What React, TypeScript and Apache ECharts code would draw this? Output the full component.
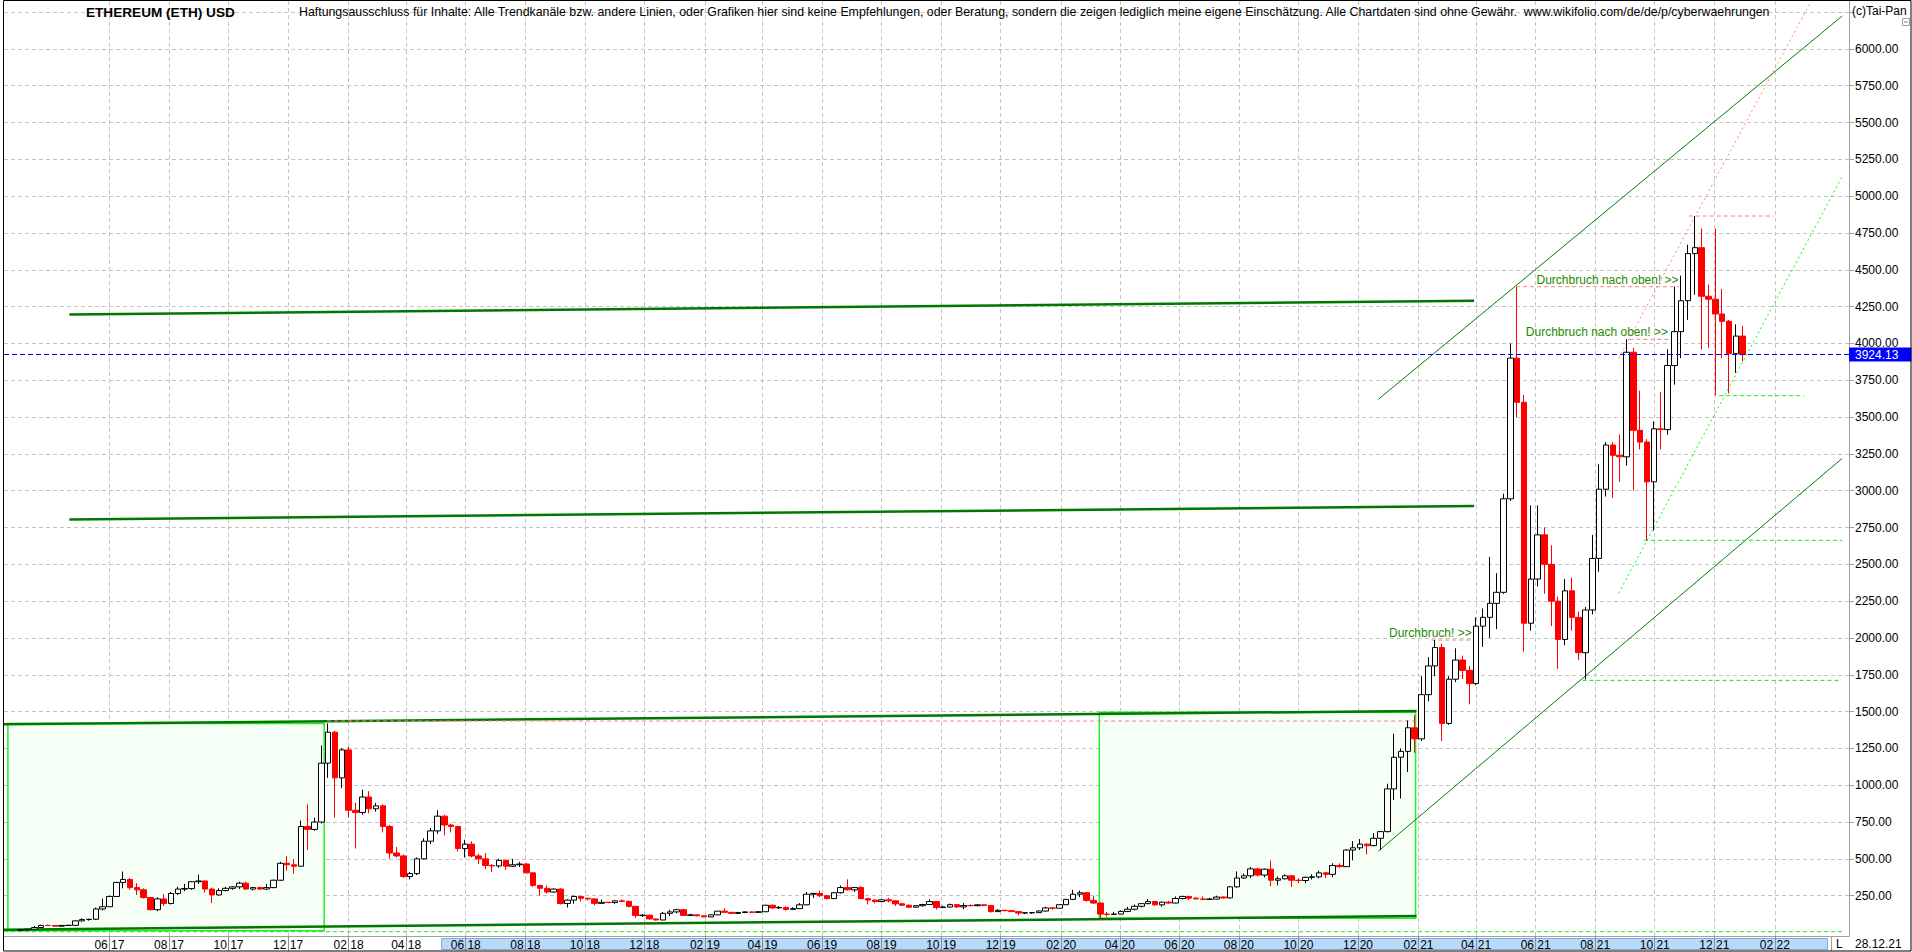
import React, { useEffect, useRef } from 'react';
import * as echarts from 'echarts';

const FONT = '"Liberation Sans", Arial, sans-serif';
const TITLE = 'ETHEREUM (ETH) USD';
const DISCLAIMER =
  'Haftungsausschluss für Inhalte: Alle Trendkanäle bzw. andere Linien, oder Grafiken hier sind keine Empfehlungen, oder Beratung, sondern die zeigen lediglich meine eigene Einschätzung. Alle Chartdaten sind ohne Gewähr.  www.wikifolio.com/de/de/p/cyberwaehrungen';
const COPYRIGHT = '(c)Tai-Pan';
const LAST_DATE_LABEL = '28.12.21';

const xRange = ['2017-02-13', '2022-04-18'];
const yRange = [-23.7, 6325];
const yGridTicks = [250, 500, 750, 1000, 1250, 1500, 1750, 2000, 2250, 2500, 2750, 3000, 3250, 3500, 3750, 4000, 4250, 4500, 4750, 5000, 5250, 5500, 5750, 6000, 6250];
const yLabelTicks = [250, 500, 750, 1000, 1250, 1500, 1750, 2000, 2250, 2500, 2750, 3000, 3250, 3500, 3750, 4000, 4250, 4500, 4750, 5000, 5250, 5500, 5750, 6000];
const monthTicks = [
  '2017-06-01', '2017-08-01', '2017-10-01', '2017-12-01', '2018-02-01', '2018-04-01', '2018-06-01', '2018-08-01',
  '2018-10-01', '2018-12-01', '2019-02-01', '2019-04-01', '2019-06-01', '2019-08-01', '2019-10-01', '2019-12-01',
  '2020-02-01', '2020-04-01', '2020-06-01', '2020-08-01', '2020-10-01', '2020-12-01', '2021-02-01', '2021-04-01',
  '2021-06-01', '2021-08-01', '2021-10-01', '2021-12-01', '2022-02-01',
];

// weekly candles: [week start (Mon), open, high, low, close]
const w2017 = [
  ['2017-02-27', 15.4, 19.6, 15.3, 19.2], ['2017-03-06', 19.2, 23.5, 17.4, 22.6], ['2017-03-13', 22.6, 44.3, 22.5, 34],
  ['2017-03-20', 34, 53, 33, 48], ['2017-03-27', 48, 53, 46.5, 47.5], ['2017-04-03', 47.5, 50, 42, 43],
  ['2017-04-10', 43, 51, 41, 48], ['2017-04-17', 48, 50.5, 46.5, 49], ['2017-04-24', 49, 80, 48, 79],
  ['2017-05-01', 79, 97, 75, 88], ['2017-05-08', 88, 93, 80, 90], ['2017-05-15', 90, 170, 85, 160],
  ['2017-05-22', 160, 230, 150, 175], ['2017-05-29', 175, 252, 175, 245], ['2017-06-05', 245, 345, 245, 340],
  ['2017-06-12', 340, 414, 300, 360], ['2017-06-19', 360, 370, 290, 305], ['2017-06-26', 305, 335, 255, 290],
  ['2017-07-03', 290, 300, 230, 238], ['2017-07-10', 238, 240, 150, 155], ['2017-07-17', 155, 240, 145, 228],
  ['2017-07-24', 228, 260, 180, 197], ['2017-07-31', 197, 275, 190, 265], ['2017-08-07', 265, 310, 255, 295],
  ['2017-08-14', 295, 330, 280, 298], ['2017-08-21', 298, 350, 290, 345], ['2017-08-28', 345, 392, 330, 350],
  ['2017-09-04', 350, 352, 270, 295], ['2017-09-11', 295, 305, 200, 255], ['2017-09-18', 255, 300, 250, 285],
  ['2017-09-25', 285, 310, 280, 300], ['2017-10-02', 300, 315, 290, 310], ['2017-10-09', 310, 345, 295, 335],
  ['2017-10-16', 335, 345, 290, 295], ['2017-10-23', 295, 310, 285, 305], ['2017-10-30', 305, 310, 290, 295],
  ['2017-11-06', 295, 330, 290, 305], ['2017-11-13', 305, 360, 300, 355], ['2017-11-20', 355, 480, 350, 470],
  ['2017-11-27', 470, 520, 420, 460], ['2017-12-04', 460, 500, 400, 450], ['2017-12-11', 450, 760, 450, 720],
  ['2017-12-18', 720, 870, 560, 700], ['2017-12-25', 700, 780, 690, 750],
];
const w2018 = [
  ['2018-01-01', 750, 1270, 740, 1150], ['2018-01-08', 1150, 1420, 1050, 1360], ['2018-01-15', 1360, 1370, 780, 1050],
  ['2018-01-22', 1050, 1250, 980, 1240], ['2018-01-29', 1240, 1260, 780, 830], ['2018-02-05', 830, 880, 570, 815],
  ['2018-02-12', 815, 970, 800, 920], ['2018-02-19', 920, 960, 810, 840], ['2018-02-26', 840, 880, 820, 860],
  ['2018-03-05', 860, 870, 680, 720], ['2018-03-12', 720, 730, 500, 540], ['2018-03-19', 540, 580, 510, 520],
  ['2018-03-26', 520, 530, 370, 380], ['2018-04-02', 380, 410, 360, 400], ['2018-04-09', 400, 510, 390, 500],
  ['2018-04-16', 500, 640, 495, 620], ['2018-04-23', 620, 710, 600, 690], ['2018-04-30', 690, 830, 670, 790],
  ['2018-05-07', 790, 800, 660, 730], ['2018-05-14', 730, 740, 680, 720], ['2018-05-21', 720, 720, 550, 570],
  ['2018-05-28', 570, 630, 510, 600], ['2018-06-04', 600, 620, 510, 520], ['2018-06-11', 520, 535, 465, 500],
  ['2018-06-18', 500, 540, 430, 455], ['2018-06-25', 455, 465, 410, 452], ['2018-07-02', 452, 500, 440, 490],
  ['2018-07-09', 490, 495, 425, 450], ['2018-07-16', 450, 500, 445, 460], ['2018-07-23', 460, 480, 445, 465],
  ['2018-07-30', 465, 470, 400, 405], ['2018-08-06', 405, 410, 310, 320], ['2018-08-13', 320, 325, 250, 300],
  ['2018-08-20', 300, 320, 265, 275], ['2018-08-27', 275, 300, 270, 295], ['2018-09-03', 295, 300, 190, 197],
  ['2018-09-10', 197, 225, 170, 220], ['2018-09-17', 220, 250, 195, 245], ['2018-09-24', 245, 248, 210, 232],
  ['2018-10-01', 232, 235, 218, 228], ['2018-10-08', 228, 232, 185, 198], ['2018-10-15', 198, 225, 195, 205],
  ['2018-10-22', 205, 208, 198, 204], ['2018-10-29', 204, 218, 195, 215], ['2018-11-05', 215, 225, 205, 212],
  ['2018-11-12', 212, 215, 170, 178], ['2018-11-19', 178, 180, 100, 115], ['2018-11-26', 115, 125, 105, 118],
  ['2018-12-03', 118, 120, 88, 92], ['2018-12-10', 92, 94, 82, 85], ['2018-12-17', 85, 140, 84, 130],
  ['2018-12-24', 130, 155, 112, 140], ['2018-12-31', 140, 160, 130, 155],
];
const w2019 = [
  ['2019-01-07', 155, 160, 112, 116], ['2019-01-14', 116, 128, 114, 120], ['2019-01-21', 120, 122, 110, 113],
  ['2019-01-28', 113, 115, 103, 106], ['2019-02-04', 106, 124, 104, 120], ['2019-02-11', 120, 146, 118, 145],
  ['2019-02-18', 145, 165, 135, 137], ['2019-02-25', 137, 140, 128, 130], ['2019-03-04', 130, 140, 125, 136],
  ['2019-03-11', 136, 143, 131, 140], ['2019-03-18', 140, 142, 134, 137], ['2019-03-25', 137, 145, 133, 141],
  ['2019-04-01', 141, 188, 140, 185], ['2019-04-08', 185, 190, 160, 167], ['2019-04-15', 167, 180, 160, 170],
  ['2019-04-22', 170, 178, 148, 157], ['2019-04-29', 157, 172, 154, 162], ['2019-05-06', 162, 200, 160, 188],
  ['2019-05-13', 188, 275, 185, 260], ['2019-05-20', 260, 270, 235, 265], ['2019-05-27', 265, 285, 240, 250],
  ['2019-06-03', 250, 255, 225, 230], ['2019-06-10', 230, 275, 228, 270], ['2019-06-17', 270, 320, 265, 305],
  ['2019-06-24', 305, 361, 285, 290], ['2019-07-01', 290, 310, 275, 305], ['2019-07-08', 305, 315, 225, 230],
  ['2019-07-15', 230, 235, 190, 220], ['2019-07-22', 220, 225, 198, 210], ['2019-07-29', 210, 225, 205, 222],
  ['2019-08-05', 222, 235, 205, 215], ['2019-08-12', 215, 218, 180, 195], ['2019-08-19', 195, 200, 180, 185],
  ['2019-08-26', 185, 190, 165, 172], ['2019-09-02', 172, 185, 170, 182], ['2019-09-09', 182, 195, 176, 190],
  ['2019-09-16', 190, 225, 188, 210], ['2019-09-23', 210, 212, 155, 170], ['2019-09-30', 170, 182, 165, 173],
  ['2019-10-07', 173, 196, 170, 189], ['2019-10-14', 189, 192, 165, 174], ['2019-10-21', 174, 200, 158, 183],
  ['2019-10-28', 183, 192, 178, 182], ['2019-11-04', 182, 194, 178, 188], ['2019-11-11', 188, 190, 178, 184],
  ['2019-11-18', 184, 186, 135, 142], ['2019-11-25', 142, 158, 140, 151], ['2019-12-02', 151, 152, 145, 148],
  ['2019-12-09', 148, 152, 140, 142], ['2019-12-16', 142, 143, 117, 132], ['2019-12-23', 132, 135, 125, 134],
  ['2019-12-30', 134, 136, 127, 135],
];
const w2020 = [
  ['2020-01-06', 135, 150, 133, 146], ['2020-01-13', 146, 175, 143, 167], ['2020-01-20', 167, 172, 155, 165],
  ['2020-01-27', 165, 190, 163, 189], ['2020-02-03', 189, 228, 185, 225], ['2020-02-10', 225, 290, 220, 260],
  ['2020-02-17', 260, 285, 240, 270], ['2020-02-24', 270, 275, 210, 218], ['2020-03-02', 218, 250, 195, 200],
  ['2020-03-09', 200, 205, 90, 125], ['2020-03-16', 125, 140, 108, 123], ['2020-03-23', 123, 140, 120, 125],
  ['2020-03-30', 125, 150, 123, 143], ['2020-04-06', 143, 175, 140, 158], ['2020-04-13', 158, 190, 150, 178],
  ['2020-04-20', 178, 198, 170, 196], ['2020-04-27', 196, 227, 192, 210], ['2020-05-04', 210, 216, 180, 188],
  ['2020-05-11', 188, 210, 175, 206], ['2020-05-18', 206, 215, 195, 200], ['2020-05-25', 200, 245, 198, 231],
  ['2020-06-01', 231, 250, 225, 245], ['2020-06-08', 245, 250, 220, 233], ['2020-06-15', 233, 240, 225, 228],
  ['2020-06-22', 228, 245, 220, 225], ['2020-06-29', 225, 235, 220, 227], ['2020-07-06', 227, 250, 225, 241],
  ['2020-07-13', 241, 245, 230, 235], ['2020-07-20', 235, 315, 232, 310], ['2020-07-27', 310, 415, 305, 370],
  ['2020-08-03', 370, 400, 365, 385], ['2020-08-10', 385, 445, 370, 432], ['2020-08-17', 432, 440, 380, 390],
  ['2020-08-24', 390, 435, 375, 430], ['2020-08-31', 430, 490, 315, 355], ['2020-09-07', 355, 380, 320, 365],
  ['2020-09-14', 365, 395, 360, 385], ['2020-09-21', 385, 390, 310, 355], ['2020-09-28', 355, 370, 335, 353],
  ['2020-10-05', 353, 380, 335, 375], ['2020-10-12', 375, 395, 360, 378], ['2020-10-19', 378, 420, 368, 405],
  ['2020-10-26', 405, 412, 370, 395], ['2020-11-02', 395, 470, 375, 455], ['2020-11-09', 455, 470, 440, 447],
  ['2020-11-16', 447, 565, 445, 560], ['2020-11-23', 560, 620, 490, 575], ['2020-11-30', 575, 635, 560, 600],
  ['2020-12-07', 600, 605, 530, 590], ['2020-12-14', 590, 675, 585, 640], ['2020-12-21', 640, 690, 560, 685],
  ['2020-12-28', 685, 1010, 680, 975],
];
const w2021 = [
  ['2021-01-04', 975, 1350, 900, 1190], ['2021-01-11', 1190, 1250, 910, 1230], ['2021-01-18', 1230, 1440, 1090, 1390],
  ['2021-01-25', 1390, 1475, 1220, 1315], ['2021-02-01', 1315, 1740, 1300, 1615], ['2021-02-08', 1615, 1870, 1570, 1810],
  ['2021-02-15', 1810, 1986, 1740, 1935], ['2021-02-22', 1935, 1960, 1300, 1420], ['2021-03-01', 1420, 1740, 1410, 1720],
  ['2021-03-08', 1720, 1930, 1700, 1850], ['2021-03-15', 1850, 1880, 1720, 1780], ['2021-03-22', 1780, 1810, 1550, 1690],
  ['2021-03-29', 1690, 2140, 1680, 2080], ['2021-04-05', 2080, 2200, 1940, 2140], ['2021-04-12', 2140, 2550, 2000, 2235],
  ['2021-04-19', 2235, 2440, 2060, 2310], ['2021-04-26', 2310, 2980, 2300, 2945], ['2021-05-03', 2945, 4000, 2930, 3900],
  ['2021-05-10', 3900, 4385, 3500, 3600], ['2021-05-17', 3600, 3650, 1907, 2100], ['2021-05-24', 2100, 2900, 2050, 2400],
  ['2021-05-31', 2400, 2900, 2350, 2700], ['2021-06-07', 2700, 2750, 2300, 2500], ['2021-06-14', 2500, 2630, 2080, 2250],
  ['2021-06-21', 2250, 2280, 1790, 1990], ['2021-06-28', 1990, 2400, 1950, 2320], ['2021-07-05', 2320, 2410, 2050, 2140],
  ['2021-07-12', 2140, 2180, 1850, 1900], ['2021-07-19', 1900, 2210, 1718, 2190], ['2021-07-26', 2190, 2700, 2160, 2540],
  ['2021-08-02', 2540, 3180, 2450, 3010], ['2021-08-09', 3010, 3330, 2960, 3310], ['2021-08-16', 3310, 3330, 2950, 3240],
  ['2021-08-23', 3240, 3380, 3060, 3230], ['2021-08-30', 3230, 4028, 3170, 3940], ['2021-09-06', 3940, 3970, 3000, 3410],
  ['2021-09-13', 3410, 3680, 3280, 3330], ['2021-09-20', 3330, 3350, 2663, 3060], ['2021-09-27', 3060, 3470, 2730, 3420],
  ['2021-10-04', 3420, 3670, 3280, 3415], ['2021-10-11', 3415, 3960, 3380, 3850], ['2021-10-18', 3850, 4385, 3720, 4080],
  ['2021-10-25', 4080, 4460, 3900, 4290], ['2021-11-01', 4290, 4670, 4160, 4610], ['2021-11-08', 4610, 4865, 4330, 4650],
  ['2021-11-15', 4650, 4780, 3960, 4320], ['2021-11-22', 4320, 4400, 3970, 4300], ['2021-11-29', 4300, 4780, 3645, 4200],
  ['2021-12-06', 4200, 4370, 3900, 4150], ['2021-12-13', 4150, 4160, 3660, 3930], ['2021-12-20', 3930, 4130, 3800, 4050],
  ['2021-12-27', 4050, 4120, 3880, 3924.13],
];
const lastPrice = 3924.13;

// drawn annotations (in data space)
const channelLines = [
  [['2017-04-21', 4196], ['2021-03-30', 4290]],
  [['2017-04-21', 2804], ['2021-03-30', 2896]],
  [['2017-02-13', 1414], ['2021-01-30', 1504]],
  [['2017-02-13', 19], ['2021-01-30', 112]],
];
const trendLines = [
  [['2020-12-22', 3621], ['2022-04-11', 6223]],
  [['2020-12-22', 553], ['2022-04-11', 3219]],
];
const supportDotted = [['2021-08-25', 2303], ['2022-04-11', 5132]];
const resistDotted = [['2021-08-25', 3899], ['2022-03-10', 6320]];
const limeLevels = [
  ['2021-09-20', '2022-04-11', 2663],
  ['2021-07-19', '2022-04-10', 1712],
  ['2021-12-06', '2022-03-03', 3645],
  ['2017-02-13', '2022-04-12', 5.5],
];
const redLevels = [
  ['2018-01-10', '2021-01-30', 1436],
  ['2021-02-14', '2021-04-01', 1986],
  ['2021-05-12', '2021-10-26', 4385],
  ['2021-09-05', '2021-10-20', 4028],
  ['2021-11-05', '2022-01-31', 4865],
];
const boxes = [
  [['2017-02-17', 12], ['2018-01-07', 1420]],
  [['2020-03-11', 96], ['2021-01-29', 1495]],
];
const notes = [
  ['2021-03-28', 1986, 'Durchbruch! >>'],
  ['2021-10-26', 4385, 'Durchbruch nach oben! >>'],
  ['2021-10-15', 4028, 'Durchbruch nach oben! >>'],
];

const D = (s: string) => {
  const [y, m, d] = s.split('-').map(Number);
  return new Date(y, m - 1, d).getTime();
};
const DAY = 86400000;

function lineSeries(points: any[], color: string, width: number, type: any, z = 3) {
  return {
    type: 'line',
    data: points.map((p: any) => [D(p[0]), p[1]]),
    showSymbol: false,
    symbol: 'none',
    silent: true,
    z,
    lineStyle: { color, width, type },
  };
}

export default function App() {
  const ref = useRef<HTMLDivElement>(null);
  useEffect(() => {
    document.body.style.margin = '0';
    if (!ref.current) return;
    const chart = echarts.init(ref.current, null, { renderer: 'svg' });
    const weeks = [...w2017, ...w2018, ...w2019, ...w2020, ...w2021] as any[];
    const candleData = weeks.map((w) => [D(w[0]) + 3 * DAY, w[1], w[4], w[3], w[2]]);
    const monthTs = monthTicks.map(D);

    const series: any[] = [
      {
        type: 'candlestick',
        data: candleData,
        encode: { x: 0, y: [1, 2, 3, 4] },
        barWidth: 6,
        z: 4,
        silent: true,
        itemStyle: {
          color: '#ffffff',
          color0: '#ff0000',
          borderColor: '#000000',
          borderColor0: '#ff0000',
          borderWidth: 1,
        },
        markArea: {
          silent: true,
          itemStyle: { color: '#f6fff6', borderColor: '#22ee22', borderWidth: 1.5 },
          data: boxes.map((b: any) => [{ coord: [D(b[0][0]), b[0][1]] }, { coord: [D(b[1][0]), b[1][1]] }]),
        },
        markLine: {
          silent: true,
          symbol: ['none', 'none'],
          lineStyle: { color: '#0000ff', type: [5, 3], width: 1 },
          label: {
            show: true,
            position: 'end',
            distance: 0,
            formatter: lastPrice.toFixed(2),
            color: '#ffffff',
            backgroundColor: '#0000ff',
            fontFamily: FONT,
            fontSize: 12,
            padding: [1, 13, 1, 6],
          },
          data: [{ yAxis: lastPrice }],
        },
        markPoint: {
          silent: true,
          symbol: 'rect',
          symbolSize: 1,
          itemStyle: { color: 'rgba(0,0,0,0)' },
          data: notes.map((n: any) => ({
            coord: [D(n[0]), n[1]],
            label: {
              show: true,
              position: 'left',
              distance: 0,
              offset: [0, -7],
              formatter: n[2],
              color: '#1f8a00',
              fontFamily: FONT,
              fontSize: 12,
            },
          })),
        },
      },
    ];
    channelLines.forEach((l) => series.push(lineSeries(l, '#007800', 2.5, 'solid')));
    trendLines.forEach((l) => series.push(lineSeries(l, '#008000', 1, 'solid')));
    series.push(lineSeries(supportDotted, '#00ff00', 1, [2, 3]));
    series.push(lineSeries(resistDotted, '#ff8080', 1, [2, 3]));
    limeLevels.forEach((l: any) => series.push(lineSeries([[l[0], l[2]], [l[1], l[2]]], '#11ee11', 1, [4, 3])));
    redLevels.forEach((l: any) => series.push(lineSeries([[l[0], l[2]], [l[1], l[2]]], '#ff8080', 1, [4, 3])));

    const option: any = {
      animation: false,
      backgroundColor: '#ffffff',
      textStyle: { fontFamily: FONT },
      grid: { left: 4, right: 63, top: 1, bottom: 16, containLabel: false },
      xAxis: {
        type: 'value',
        min: D(xRange[0]),
        max: D(xRange[1]),
        scale: true,
        axisLine: { show: true, onZero: false, lineStyle: { color: '#a0a0a0', width: 1 } },
        axisTick: { show: true, customValues: monthTs, length: 15, lineStyle: { color: '#909090' } },
        axisLabel: {
          show: true,
          customValues: monthTs,
          margin: 3,
          fontSize: 12,
          color: '#000000',
          fontFamily: FONT,
          formatter: (v: number) => {
            const d = new Date(v);
            const mm = String(d.getMonth() + 1).padStart(2, '0');
            const yy = String(d.getFullYear() % 100).padStart(2, '0');
            return mm + ' ' + yy;
          },
        },
        splitLine: { show: true, lineStyle: { color: '#c4c4c4', type: [4, 3], width: 1 } },
      },
      yAxis: {
        type: 'value',
        position: 'right',
        min: yRange[0],
        max: yRange[1],
        axisLine: { show: true, lineStyle: { color: '#a0a0a0' } },
        axisTick: { show: true, customValues: yGridTicks, length: 5, lineStyle: { color: '#a0a0a0' } },
        axisLabel: {
          show: true,
          customValues: yLabelTicks,
          margin: 6,
          fontSize: 12,
          color: '#000000',
          fontFamily: FONT,
          formatter: (v: number) => v.toFixed(2),
        },
        splitLine: { show: true, lineStyle: { color: '#c4c4c4', type: [4, 3], width: 1 } },
      },
      series,
      graphic: [
        {
          type: 'rect',
          z: -1,
          silent: true,
          shape: { x: 441.5, y: 938.5, width: 1386, height: 11 },
          style: { fill: '#b9d9f9', stroke: '#80acdc', lineWidth: 1 },
        },
        { type: 'line', z: 50, silent: true, shape: { x1: 1831.5, y1: 937, x2: 1831.5, y2: 951 }, style: { stroke: '#a0a0a0' } },
        { type: 'text', z: 50, silent: true, x: 1836, y: 944, style: { text: 'L', font: '12px ' + FONT, fill: '#000', verticalAlign: 'middle' } },
        { type: 'text', z: 50, silent: true, x: 1855, y: 944, style: { text: LAST_DATE_LABEL, font: '12px ' + FONT, fill: '#000', verticalAlign: 'middle' } },
        { type: 'text', z: 50, silent: true, x: 86, y: 12, style: { text: TITLE, font: 'bold 13.6px ' + FONT, fill: '#000', verticalAlign: 'middle' } },
        { type: 'text', z: 50, silent: true, x: 299, y: 12, style: { text: DISCLAIMER, font: '12.35px ' + FONT, fill: '#000', verticalAlign: 'middle' } },
        { type: 'text', z: 50, silent: true, x: 1852, y: 11, style: { text: COPYRIGHT, font: '12px ' + FONT, fill: '#000', verticalAlign: 'middle' } },
        { type: 'rect', z: 50, silent: true, shape: { x: 1902.5, y: 18.5, width: 7, height: 7 }, style: { fill: '#fff', stroke: '#a0a0a0' } },
        { type: 'line', z: 50, silent: true, shape: { x1: 1904, y1: 22, x2: 1908, y2: 22 }, style: { stroke: '#808080' } },
        { type: 'rect', z: 60, silent: true, shape: { x: 3.5, y: 0.5, width: 1907.5, height: 950.5 }, style: { fill: 'none', stroke: '#000', lineWidth: 1 } },
      ],
    };
    chart.setOption(option);
    return () => chart.dispose();
  }, []);
  return <div ref={ref} style={{ width: 1912, height: 952 }} />;
}
